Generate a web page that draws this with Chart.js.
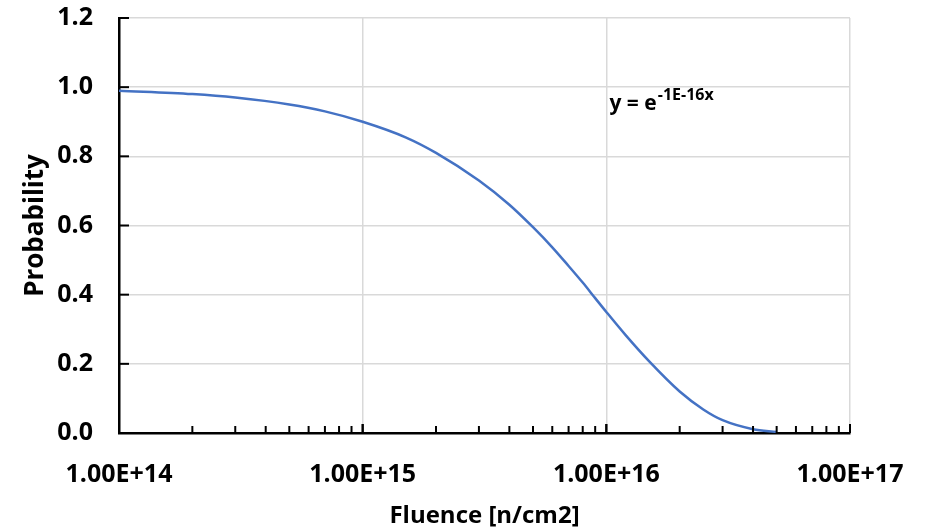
<!DOCTYPE html>
<html>
<head>
<meta charset="UTF-8">
<title>Probability vs Fluence</title>
<style>
  html, body { margin: 0; padding: 0; background: #fff; }
  .chartBox { width: 930px; height: 532px; }
</style>
</head>
<body>
<div class="chartBox">
  <canvas id="myChart"></canvas>
</div>
<script src="https://cdn.jsdelivr.net/npm/chart.js"></script>
<script>
// data
const fluence = [1e14, 2e14, 3e14, 5e14, 7e14, 1e15, 1.5e15, 2e15, 3e15, 4e15, 5e15, 6e15,
                 7e15, 8e15, 9e15, 1e16, 1.2e16, 1.5e16, 2e16, 2.5e16, 3e16, 4e16, 5e16];
const probability = [0.99, 0.98, 0.97, 0.95, 0.93, 0.90, 0.855, 0.81, 0.73, 0.66, 0.595, 0.537,
                     0.483, 0.435, 0.39, 0.35, 0.283, 0.207, 0.12, 0.068, 0.037, 0.011, 0.003];
const xTicks = [1e14, 1e15, 1e16, 1e17];
const yTicks = [0, 0.2, 0.4, 0.6, 0.8, 1.0, 1.2];
const fitText = 'y = e';
const fitSup = '-1E-16x';

const FONT = '"Open Sans", "Noto Sans", sans-serif';

// inside tick marks + fit label
const extras = {
  id: 'extras',
  afterDraw(chart) {
    const ctx = chart.ctx;
    const x = chart.scales.x, y = chart.scales.y;
    const x0 = x.getPixelForValue(1e14);
    const y0 = y.getPixelForValue(0);
    ctx.save();
    ctx.strokeStyle = '#000';
    ctx.lineWidth = 2;
    // y major ticks
    yTicks.forEach(v => {
      const py = y.getPixelForValue(v);
      ctx.beginPath(); ctx.moveTo(x0, py); ctx.lineTo(x0 + 10, py); ctx.stroke();
    });
    // x ticks (minor + major)
    for (let e = 14; e <= 16; e++) {
      for (let m = 1; m <= 10; m++) {
        const px = x.getPixelForValue(m * Math.pow(10, e));
        const len = (m === 1 || m === 10) ? 9 : 7;
        ctx.beginPath(); ctx.moveTo(px, y0); ctx.lineTo(px, y0 - len); ctx.stroke();
      }
    }
    // fit label
    const lx = x.getPixelForValue(1.03e16);
    const ly = y.getPixelForValue(0.935);
    ctx.fillStyle = '#000';
    ctx.textBaseline = 'alphabetic';
    ctx.font = 'bold 21px ' + FONT;
    ctx.fillText(fitText, lx, ly);
    const w = ctx.measureText(fitText).width;
    ctx.font = 'bold 16px ' + FONT;
    ctx.fillText(fitSup, lx + w + 1, ly - 10);
    ctx.restore();
  }
};

const data = {
  datasets: [{
    label: 'Probability',
    data: fluence.map((f, i) => ({ x: f, y: probability[i] })),
    borderColor: '#4472C4',
    borderWidth: 2.5,
    pointRadius: 0,
    cubicInterpolationMode: 'monotone',
    fill: false
  }]
};

const config = {
  type: 'line',
  data,
  options: {
    responsive: false,
    animation: false,
    layout: { padding: { top: 18, right: 80, left: 0, bottom: 0 } },
    plugins: { legend: { display: false }, tooltip: { enabled: false } },
    scales: {
      x: {
        type: 'logarithmic',
        min: 1e14,
        max: 1e17,
        afterBuildTicks: s => { s.ticks = xTicks.map(v => ({ value: v })); },
        afterFit: s => { s.height = 99; },
        grid: { color: '#d9d9d9', lineWidth: 1.5, drawTicks: true, tickLength: 27, tickColor: 'rgba(0,0,0,0)' },
        border: { color: '#000', width: 2.5 },
        ticks: {
          padding: 0,
          maxRotation: 0,
          autoSkip: false,
          color: '#000',
          font: { family: FONT, size: 25, weight: 'bold' },
          callback: v => Number(v).toExponential(2).toUpperCase()
        },
        title: {
          display: true,
          text: 'Fluence [n/cm2]',
          color: '#000',
          font: { family: FONT, size: 24, weight: 'bold' },
          padding: { top: 0, bottom: 1 }
        }
      },
      y: {
        min: 0,
        max: 1.2,
        afterBuildTicks: s => { s.ticks = yTicks.map(v => ({ value: v })); },
        afterFit: s => { s.width = 119; },
        grid: { color: '#d9d9d9', lineWidth: 1.5, drawTicks: true, tickLength: 26, tickColor: 'rgba(0,0,0,0)' },
        border: { color: '#000', width: 2.5 },
        ticks: {
          padding: 0,
          color: '#000',
          font: { family: FONT, size: 25, weight: 'bold' },
          callback: v => Number(v).toFixed(1)
        },
        title: {
          display: true,
          text: 'Probability',
          color: '#000',
          font: { family: FONT, size: 26, weight: 'bold' },
          padding: { top: 20, bottom: 0 }
        }
      }
    }
  },
  plugins: [extras]
};

const canvas = document.getElementById('myChart');
canvas.width = 930;
canvas.height = 532;
const myChart = new Chart(canvas, config);
</script>
</body>
</html>
